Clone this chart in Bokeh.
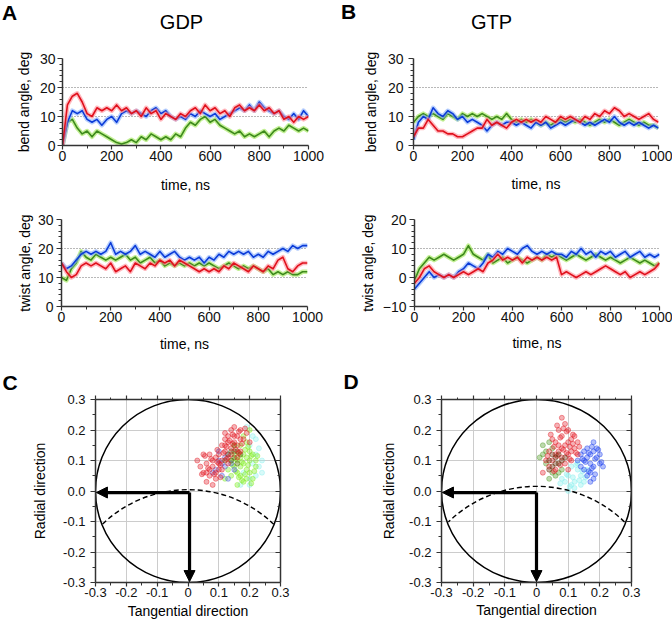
import math
from bokeh.plotting import figure
from bokeh.layouts import column, row
from bokeh.models import (Arrow, NormalHead, Range1d, LinearAxis, Title,
                          FixedTicker, CustomJSTickFormatter)
from bokeh.core.properties import value
from bokeh.embed import file_html
from bokeh.resources import INLINE

FONT = "Liberation Sans"

# ---------------- data ----------------
time_ns = list(range(0, 1001, 20))
time_ticks = [0, 200, 400, 600, 800, 1000]
time_minor = [100, 300, 500, 700, 900]

gdp_bend_blue = [0, 8, 12, 11, 12, 9, 8, 9, 7, 9, 10, 8, 11, 12, 11, 12, 11, 10, 12, 13, 11, 12, 10, 9, 10,
                 9, 11, 10, 12, 11, 10, 11, 9, 10, 11, 12, 13, 12, 14, 12, 15, 13, 12, 11, 12, 10, 9, 11, 9, 12, 10]
gdp_bend_green = [0, 8, 9, 6, 4, 5, 3, 5, 4, 3, 2, 1, 0.5, 1, 2, 1, 3, 2, 4, 3, 2, 3, 2, 4, 3,
                  6, 8, 7, 9, 10, 8, 9, 7, 6, 5, 4, 5, 3, 4, 3, 4, 5, 3, 5, 6, 5, 7, 6, 5, 6, 5]
gdp_bend_red = [0, 14, 17, 18, 15, 11, 10, 13, 12, 13, 12, 14, 12, 13, 11, 12, 10, 13, 11, 12, 9, 11, 10, 9, 11,
                10, 12, 13, 11, 14, 12, 13, 11, 12, 10, 13, 14, 12, 13, 12, 14, 12, 13, 11, 12, 9, 10, 8, 10, 9, 10]

gdp_twist_blue = [15, 13, 14, 16, 18, 19, 18, 19, 18, 19, 22, 18, 19, 18, 19, 21, 18, 19, 18, 17, 19, 17, 18, 19, 17,
                  16, 17, 16, 17, 15, 17, 16, 18, 17, 19, 18, 19, 18, 19, 17, 18, 17, 19, 18, 19, 20, 19, 21, 20, 21, 21]
gdp_twist_green = [10, 9, 13, 15, 19, 17, 16, 18, 17, 16, 17, 16, 17, 18, 16, 17, 15, 16, 17, 15, 16, 14, 15, 14, 15,
                   14, 15, 14, 15, 14, 15, 14, 13, 14, 15, 14, 13, 14, 13, 14, 13, 12, 13, 11, 12, 11, 12, 11, 11, 12, 12]
gdp_twist_red = [15, 12, 10, 11, 14, 15, 14, 15, 14, 13, 15, 12, 13, 14, 12, 15, 14, 13, 15, 14, 16, 15, 16, 14, 16,
                 15, 14, 13, 12, 13, 12, 13, 12, 14, 13, 15, 14, 13, 12, 14, 13, 12, 14, 13, 16, 17, 13, 12, 14, 15, 15]

gtp_bend_blue = [2, 8, 10, 9, 13, 11, 10, 12, 11, 9, 10, 8, 9, 8, 7, 5, 7, 8, 7, 8, 8, 7, 8, 7, 6,
                 8, 7, 8, 6, 7, 8, 7, 8, 9, 8, 7, 8, 7, 8, 9, 8, 10, 8, 7, 8, 7, 8, 7, 6, 7, 6]
gtp_bend_green = [8, 10, 11, 10, 11, 10, 9, 11, 10, 9, 11, 10, 11, 10, 11, 10, 9, 10, 9, 11, 9, 8, 9, 8, 9,
                  8, 7, 8, 7, 8, 9, 8, 9, 8, 9, 8, 7, 8, 9, 8, 9, 8, 7, 8, 9, 8, 7, 8, 7, 7, 6]
gtp_bend_red = [3, 6, 6, 9, 7, 5, 5, 4, 4, 3, 3, 4, 5, 6, 6, 9, 7, 8, 7, 6, 8, 9, 8, 9, 8,
                9, 8, 10, 9, 8, 10, 9, 10, 9, 8, 10, 9, 11, 10, 12, 11, 13, 12, 10, 11, 10, 9, 10, 11, 9, 8]

gtp_twist_blue = [-4, -2, 0, 2, 0, 1, 0, 1, 0, 2, 3, 5, 4, 3, 5, 8, 7, 9, 8, 10, 9, 8, 10, 11, 9,
                  8, 9, 8, 9, 8, 8, 7, 9, 8, 10, 8, 9, 7, 9, 8, 9, 7, 8, 9, 7, 8, 9, 7, 8, 7, 8]
gtp_twist_green = [-1, 3, 5, 7, 6, 7, 8, 7, 6, 7, 8, 11, 8, 7, 6, 8, 5, 6, 7, 5, 6, 7, 6, 5, 6,
                   7, 6, 8, 7, 8, 7, 6, 7, 8, 7, 6, 7, 8, 7, 6, 7, 6, 5, 6, 7, 6, 5, 6, 5, 4, 5]
gtp_twist_red = [-2, 0, 3, 4, 2, 1, 0, 1, 0, 1, 2, 1, 2, 3, 2, 5, 6, 8, 6, 7, 6, 7, 5, 7, 6,
                 7, 6, 7, 6, 7, 1, 2, 1, 0, 1, 2, 1, 2, 3, 4, 3, 2, 1, 2, 0, 1, 2, 1, 2, 3, 5]

pol_ticks = [-0.3, -0.2, -0.1, 0.0, 0.1, 0.2, 0.3]
pol_minor = [-0.25, -0.15, -0.05, 0.05, 0.15, 0.25]

c_red_x = [0.05, 0.06, 0.07, 0.08, 0.09, 0.10, 0.11, 0.07, 0.04, 0.09, 0.12, 0.13, 0.14, 0.15, 0.16,
           0.17, 0.15, 0.18, 0.12, 0.14, 0.16, 0.13, 0.11, 0.10, 0.06, 0.08, 0.19, 0.17, 0.14, 0.12,
           0.10, 0.08, 0.13, 0.16, 0.20, 0.03, 0.05, 0.07, 0.09, 0.12, 0.15, 0.17, 0.13, 0.11, 0.06,
           0.065, 0.075, 0.085, 0.095, 0.105, 0.115, 0.125, 0.135, 0.145, 0.155, 0.165, 0.175, 0.185,
           0.055, 0.045, 0.095, 0.125, 0.145, 0.165, 0.105]
c_red_y = [0.06, 0.09, 0.05, 0.08, 0.11, 0.07, 0.10, 0.12, 0.08, 0.04, 0.13, 0.16, 0.12, 0.18, 0.15,
           0.20, 0.21, 0.17, 0.19, 0.14, 0.11, 0.09, 0.15, 0.12, 0.03, 0.02, 0.19, 0.13, 0.20, 0.17,
           0.09, 0.10, 0.11, 0.18, 0.16, 0.10, 0.12, 0.07, 0.06, 0.15, 0.16, 0.17, 0.18, 0.07, 0.06,
           0.075, 0.105, 0.055, 0.095, 0.085, 0.125, 0.145, 0.165, 0.185, 0.135, 0.195, 0.155, 0.205,
           0.115, 0.055, 0.135, 0.105, 0.155, 0.125, 0.045]
c_lime_x = [0.15, 0.17, 0.19, 0.20, 0.18, 0.16, 0.14, 0.21, 0.18, 0.20, 0.17, 0.19, 0.15, 0.13, 0.22,
            0.16, 0.18, 0.20, 0.14, 0.17, 0.19, 0.21, 0.16, 0.18, 0.20, 0.15, 0.12, 0.22, 0.17, 0.19,
            0.155, 0.175, 0.195, 0.185, 0.165, 0.205, 0.145, 0.215, 0.175, 0.195, 0.165, 0.185, 0.205,
            0.155, 0.225]
c_lime_y = [0.08, 0.05, 0.07, 0.10, 0.12, 0.10, 0.05, 0.04, 0.03, 0.13, 0.15, 0.16, 0.12, 0.07, 0.08,
            0.02, 0.09, 0.06, 0.10, 0.08, 0.11, 0.12, 0.06, 0.18, 0.20, 0.15, 0.04, 0.10, 0.11, 0.04,
            0.065, 0.035, 0.085, 0.055, 0.125, 0.115, 0.085, 0.065, 0.095, 0.145, 0.045, 0.135, 0.025,
            0.105, 0.115]
c_cyan_x = [0.20, 0.22, 0.23, 0.21, 0.19, 0.22, 0.24, 0.20, 0.23, 0.18, 0.21, 0.24, 0.22, 0.20, 0.17]
c_cyan_y = [0.15, 0.12, 0.08, 0.18, 0.21, 0.05, 0.10, 0.02, 0.14, 0.06, 0.09, 0.06, 0.17, 0.04, 0.02]
c_blue_x = [0.10, 0.12, 0.09, 0.13, 0.11, 0.14, 0.10, 0.12, 0.15, 0.08, 0.13, 0.11]
c_blue_y = [0.10, 0.08, 0.07, 0.12, 0.05, 0.09, 0.13, 0.11, 0.07, 0.06, 0.04, 0.09]
c_olive_x = [0.14, 0.15, 0.16, 0.13, 0.15, 0.17, 0.16, 0.14, 0.12, 0.15]
c_olive_y = [0.13, 0.11, 0.13, 0.12, 0.15, 0.12, 0.09, 0.10, 0.10, 0.13]

d_red_x = [0.05, 0.07, 0.09, 0.08, 0.10, 0.06, 0.11, 0.10, 0.07, 0.12, 0.09, 0.04, 0.08, 0.11, 0.06,
           0.05, 0.09, 0.12, 0.13, 0.07, 0.08, 0.10, 0.03, 0.06, 0.10, 0.13, 0.02, 0.08, 0.11, 0.04,
           0.055, 0.065, 0.075, 0.085, 0.095, 0.105, 0.115, 0.125, 0.035, 0.045, 0.065, 0.085, 0.095,
           0.115, 0.075, 0.105, 0.055, 0.135]
d_red_y = [0.10, 0.13, 0.15, 0.18, 0.12, 0.16, 0.17, 0.20, 0.20, 0.14, 0.09, 0.13, 0.11, 0.10, 0.07,
           0.17, 0.22, 0.18, 0.12, 0.15, 0.14, 0.16, 0.10, 0.12, 0.07, 0.16, 0.06, 0.24, 0.13, 0.08,
           0.145, 0.115, 0.175, 0.135, 0.195, 0.145, 0.155, 0.125, 0.115, 0.185, 0.215, 0.205, 0.125,
           0.185, 0.085, 0.105, 0.065, 0.145]
d_brown_x = [0.04, 0.05, 0.06, 0.07, 0.05, 0.08, 0.06, 0.04, 0.07, 0.09]
d_brown_y = [0.10, 0.08, 0.11, 0.09, 0.12, 0.10, 0.09, 0.07, 0.12, 0.11]
d_green_x = [0.03, 0.04, 0.02, 0.05, 0.03, 0.06, 0.02, 0.04, 0.07, 0.01, 0.05, 0.08]
d_green_y = [0.13, 0.16, 0.12, 0.06, 0.09, 0.05, 0.15, 0.04, 0.06, 0.11, 0.14, 0.07]
d_blue_x = [0.15, 0.17, 0.18, 0.16, 0.19, 0.17, 0.14, 0.20, 0.18, 0.16, 0.15, 0.19, 0.17, 0.18, 0.21,
            0.16, 0.14, 0.20, 0.15, 0.13, 0.18, 0.17,
            0.155, 0.165, 0.175, 0.185, 0.195, 0.145, 0.205, 0.175, 0.165, 0.185]
d_blue_y = [0.10, 0.12, 0.08, 0.14, 0.11, 0.06, 0.08, 0.09, 0.13, 0.05, 0.13, 0.14, 0.09, 0.04, 0.08,
            0.11, 0.12, 0.12, 0.07, 0.10, 0.16, 0.03,
            0.095, 0.125, 0.075, 0.105, 0.135, 0.105, 0.095, 0.145, 0.065, 0.055]
d_cyan_x = [0.10, 0.12, 0.13, 0.11, 0.14, 0.09, 0.12, 0.15, 0.10, 0.13, 0.08, 0.16, 0.11, 0.14,
            0.095, 0.115, 0.135, 0.125, 0.105, 0.145, 0.075, 0.155]
d_cyan_y = [0.05, 0.03, 0.07, 0.08, 0.05, 0.03, 0.01, 0.03, 0.00, 0.09, 0.04, 0.07, 0.02, 0.02,
            0.055, 0.045, 0.035, 0.085, 0.015, 0.065, 0.025, 0.045]

# geometry of the reference circle / dashed arc (data units)
CIRCLE_R = 0.3
ARC_R = 0.4

# ---------------- layout geometry (page pixels) ----------------
PAGE_W = 672
COL_X = [0, 336]
COL_W = 336
HEAD_H = 40
ROW_Y = [40, 203, 363]
ROW_H = [163, 160, 263]

BLUE, BLUE_H = "#0b3bd8", "#86aefc"
GREEN, GREEN_H = "#3d8a1c", "#9be64e"
RED, RED_H = "#e0101c", "#ff8a95"


def base_fig(frame, cx, ry, h, xr, yr):
    fx0, fy0, fx1, fy1 = frame
    p = figure(width=COL_W, height=h, x_range=Range1d(*xr), y_range=Range1d(*yr),
               output_backend="svg", toolbar_location=None, title=None,
               min_border_left=fx0 - cx, min_border_right=cx + COL_W - fx1,
               min_border_top=fy0 - ry, min_border_bottom=ry + h - fy1)
    p.outline_line_color = None
    p.background_fill_color = "white"
    p.border_fill_color = "white"
    return p


def style_axis(ax, label_standoff, tick_out=5, minor_out=3, size="14px"):
    ax.major_label_text_font = FONT
    ax.major_label_text_font_size = size
    ax.major_label_text_color = "#111111"
    ax.major_label_standoff = label_standoff
    ax.axis_line_color = "#333333"
    ax.axis_line_width = 1.5
    ax.major_tick_line_color = "#333333"
    ax.major_tick_line_width = 1.2
    ax.minor_tick_line_color = "#333333"
    ax.major_tick_out = tick_out
    ax.major_tick_in = 0
    ax.minor_tick_out = minor_out
    ax.minor_tick_in = 0
    ax.axis_label_text_font = FONT
    ax.axis_label_text_font_size = "14px"
    ax.axis_label_text_font_style = "normal"
    ax.axis_label_text_color = "black"


def make_title(text, size, bold, align, offset, standoff):
    return Title(text=text, align=align, offset=offset, standoff=standoff,
                 text_font=FONT, text_font_size=f"{size}px",
                 text_font_style="bold" if bold else "normal", text_color="black")


def ts_panel(frame, cx, ry, h, yr, ymajor, yminor, grid_ticks, ylabel,
             blue, green, red, ylab_std, yaxlab_std, xaxlab_std):
    p = base_fig(frame, cx, ry, h, (0, 1000), yr)
    p.xgrid.visible = False
    p.ygrid.ticker = FixedTicker(ticks=grid_ticks)
    p.ygrid.grid_line_color = "#707070"
    p.ygrid.grid_line_dash = "1 2"
    p.ygrid.grid_line_width = 1
    for vals, col, halo in [(green, GREEN, GREEN_H), (blue, BLUE, BLUE_H), (red, RED, RED_H)]:
        p.line(time_ns, vals, line_color=halo, line_width=4.5, line_alpha=0.6, line_join="round")
        p.line(time_ns, vals, line_color=col, line_width=1.6, line_join="round")
    p.xaxis.ticker = FixedTicker(ticks=time_ticks, minor_ticks=time_minor)
    p.yaxis.ticker = FixedTicker(ticks=ymajor, minor_ticks=yminor)
    style_axis(p.xaxis[0], 1, tick_out=4)
    style_axis(p.yaxis[0], ylab_std)
    p.yaxis.axis_label = ylabel
    p.yaxis.axis_label_standoff = yaxlab_std
    p.xaxis.axis_label = "time, ns"
    p.xaxis.axis_label_standoff = xaxlab_std
    return p


def mirror_axis(tick_out, minor_out, tick_in, minor_in):
    ax = LinearAxis(ticker=FixedTicker(ticks=pol_ticks, minor_ticks=pol_minor),
                    formatter=CustomJSTickFormatter(code="return '';"))
    style_axis(ax, 0, tick_out=tick_out, minor_out=minor_out, size="1px")
    ax.major_tick_in = tick_in
    ax.minor_tick_in = minor_in
    return ax


def polar_panel(frame, cx, ry, h, clouds, origin, ylab_std, yaxlab_std,
                letter, letter_offset, letter_standoff, xt_offset, xt_standoff):
    xr = (-0.3, 0.3)
    yr = (-0.3, 0.3)
    p = base_fig(frame, cx, ry, h, xr, yr)
    p.xgrid.ticker = FixedTicker(ticks=pol_ticks)
    p.ygrid.ticker = FixedTicker(ticks=pol_ticks)
    for g in (p.xgrid[0], p.ygrid[0]):
        g.grid_line_color = "#cccccc"
        g.grid_line_width = 1
    for xs, ys, col, fa in clouds:
        p.scatter(xs, ys, size=5, fill_color=col, fill_alpha=fa, line_color=col,
                  line_alpha=0.55, line_width=0.8)
    p.ellipse(x=[0], y=[0], width=2 * CIRCLE_R, height=2 * CIRCLE_R, fill_color=None,
              line_color="black", line_width=1.5)
    yi = -CIRCLE_R ** 2 / (2 * ARC_R)
    xi = math.sqrt(CIRCLE_R ** 2 - yi ** 2)
    a0 = math.atan2(yi + ARC_R, xi)
    p.arc(x=[0], y=[-ARC_R], radius=ARC_R, start_angle=a0, end_angle=math.pi - a0,
          line_color="black", line_width=1.4, line_dash="5 3")
    ox, oy = origin
    for xe, ye in [(-0.297, oy), (ox, -0.297)]:
        p.add_layout(Arrow(end=NormalHead(size=11, fill_color="black", line_color="black"),
                           x_start=ox, y_start=oy, x_end=xe, y_end=ye,
                           line_width=3.2, line_color="black"))
    p.xaxis.ticker = FixedTicker(ticks=pol_ticks, minor_ticks=pol_minor)
    p.yaxis.ticker = FixedTicker(ticks=pol_ticks, minor_ticks=pol_minor)
    p.xaxis.formatter = CustomJSTickFormatter(code="return Math.abs(tick) < 1e-9 ? '0' : tick.toFixed(1);")
    p.yaxis.formatter = CustomJSTickFormatter(code="return Math.abs(tick) < 1e-9 ? '0.0' : tick.toFixed(1);")
    style_axis(p.xaxis[0], 1, tick_out=4, size="13px")
    style_axis(p.yaxis[0], ylab_std, size="13px")
    p.yaxis.axis_label = "Radial direction"
    p.yaxis.axis_label_standoff = yaxlab_std
    p.add_layout(mirror_axis(4, 2, 0, 0), "above")
    p.add_layout(mirror_axis(0, 0, 5, 3), "right")
    p.add_layout(make_title(letter, 21, True, "left", letter_offset, letter_standoff), "above")
    p.add_layout(make_title("Tangential direction", 14, False, "center", xt_offset, xt_standoff), "below")
    return p


# ---------------- header with panel letters and titles ----------------
head_text = ["A", "GDP", "B", "GTP"]
head_x = [9, 181, 348, 491]
head_y = [12, 21, 11, 21]
head_size = ["21px", "20px", "21px", "20px"]
head_style = ["bold", "normal", "bold", "normal"]

header = figure(width=PAGE_W, height=HEAD_H, x_range=Range1d(0, PAGE_W), y_range=Range1d(HEAD_H, 0),
                x_axis_type=None, y_axis_type=None, output_backend="svg", toolbar_location=None,
                title=None, min_border=0, min_border_left=0, min_border_right=0,
                min_border_top=0, min_border_bottom=0)
header.outline_line_color = None
header.text(x=head_x, y=head_y, text=head_text, text_font=value(FONT), text_font_size=head_size,
            text_font_style=head_style, text_align="center", text_baseline="middle", text_color="black")

# ---------------- panels ----------------
A1_FRAME = (62, 58, 308, 145)
B1_FRAME = (413, 58, 658, 146)
A2_FRAME = (61, 218, 307, 306)
B2_FRAME = (414, 219, 659, 307)
C_FRAME = (95, 397, 280, 582)
D_FRAME = (441, 399, 631, 584)

deg_major = [0, 10, 20, 30]
deg_minor = [2, 4, 6, 8, 12, 14, 16, 18, 22, 24, 26, 28]
tw_major = [-10, 0, 10, 20]
tw_minor = [-8, -6, -4, -2, 2, 4, 6, 8, 12, 14, 16, 18]

a1 = ts_panel(A1_FRAME, COL_X[0], ROW_Y[0], ROW_H[0], (0, 30), deg_major, deg_minor, [10, 20, 30],
              "bend angle, deg", gdp_bend_blue, gdp_bend_green, gdp_bend_red, 2, 5, 13)
b1 = ts_panel(B1_FRAME, COL_X[1], ROW_Y[0], ROW_H[0], (0, 30), deg_major, deg_minor, [10, 20, 30],
              "bend angle, deg", gtp_bend_blue, gtp_bend_green, gtp_bend_red, 5, 6, 12)
a2 = ts_panel(A2_FRAME, COL_X[0], ROW_Y[1], ROW_H[1], (0, 30), deg_major, deg_minor, [10, 20, 30],
              "twist angle, deg", gdp_twist_blue, gdp_twist_green, gdp_twist_red, 3, 2, 11)
b2 = ts_panel(B2_FRAME, COL_X[1], ROW_Y[1], ROW_H[1], (-10, 20), tw_major, tw_minor, [0, 10, 20],
              "twist angle, deg", gtp_twist_blue, gtp_twist_green, gtp_twist_red, 3, 4, 10)

c_clouds = [(c_cyan_x, c_cyan_y, "#8ff0ee", 0.35), (c_lime_x, c_lime_y, "#86ee2c", 0.4),
            (c_blue_x, c_blue_y, "#5060e0", 0.35), (c_olive_x, c_olive_y, "#5d6b1c", 0.4),
            (c_red_x, c_red_y, "#e3202a", 0.35)]
d_clouds = [(d_cyan_x, d_cyan_y, "#8ff0ee", 0.4), (d_blue_x, d_blue_y, "#2448f0", 0.35),
            (d_green_x, d_green_y, "#5aa032", 0.4), (d_red_x, d_red_y, "#e3202a", 0.35),
            (d_brown_x, d_brown_y, "#6a3412", 0.4)]

c = polar_panel(C_FRAME, COL_X[0], ROW_Y[2], ROW_H[2], c_clouds, (0.005, -0.005), 5, 12,
                "C", -93, 4, -25, 3)
d = polar_panel(D_FRAME, COL_X[1], ROW_Y[2], ROW_H[2], d_clouds, (0.0, -0.005), 5, 9,
                "D", -98, 5, -26, 1)

layout = column(header, row(a1, b1), row(a2, b2), row(c, d))

open("out.html", "w").write(file_html(layout, INLINE, "Bend and twist angles"))
